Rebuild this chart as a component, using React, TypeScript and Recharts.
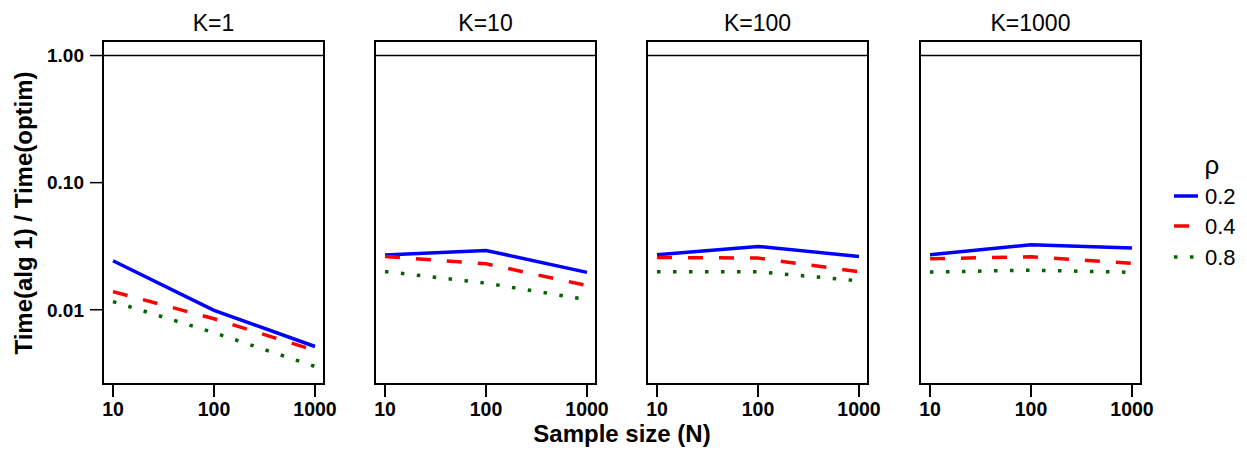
import { LineChart, Line, XAxis, YAxis, ReferenceLine, ReferenceArea } from 'recharts';

const sampleSizes = [10, 100, 1000];
const kLabels = ['K=1', 'K=10', 'K=100', 'K=1000'];
const yTicks = [0.01, 0.1, 1];

// one row per K panel, values at N = 10, 100, 1000
const rho02 = [
  [0.0243, 0.0099, 0.00514],
  [0.027, 0.0293, 0.0197],
  [0.0271, 0.0315, 0.0263],
  [0.0271, 0.0325, 0.0306],
];
const rho04 = [
  [0.0139, 0.0085, 0.00478],
  [0.0263, 0.023, 0.0155],
  [0.0258, 0.0255, 0.0199],
  [0.0252, 0.0261, 0.0232],
];
const rho08 = [
  [0.0116, 0.0066, 0.00358],
  [0.02, 0.0162, 0.012],
  [0.0199, 0.0199, 0.0169],
  [0.0198, 0.0205, 0.0197],
];

const series = [
  { key: 'r02', name: '0.2', color: '#0000ff', dash: undefined },
  { key: 'r04', name: '0.4', color: '#ff0000', dash: '15 16' },
  { key: 'r08', name: '0.8', color: '#006400', dash: '3.5 12.5' },
];

const X_DOMAIN: [number, number] = [Math.pow(10, 1 - 10 / 101), Math.pow(10, 3 + 9 / 101)];
const Y_DOMAIN: [number, number] = [Math.pow(10, -2.584), Math.pow(10, 0.1144)];
const panelLeft = [103, 375, 647, 920];
const AXIS_W = 103;
const PLOT_W = 221;
const RIGHT_PAD = 30;
const font = 'Arial, "Liberation Sans", Helvetica, sans-serif';

const fmtY = (v: number) => v.toFixed(2);

function Panel({ idx }: { idx: number }) {
  const data = sampleSizes.map((n, i) => ({
    n,
    r02: rho02[idx][i],
    r04: rho04[idx][i],
    r08: rho08[idx][i],
  }));
  const first = idx === 0;
  return (
    <div style={{ position: 'absolute', left: panelLeft[idx] - AXIS_W, top: 0 }}>
      <LineChart
        width={AXIS_W + PLOT_W + RIGHT_PAD}
        height={450}
        data={data}
        margin={{ top: 41, right: RIGHT_PAD, bottom: 0, left: 0 }}
      >
        <XAxis
          dataKey="n"
          type="number"
          scale="log"
          domain={X_DOMAIN}
          allowDataOverflow
          ticks={sampleSizes}
          height={66}
          axisLine={false}
          tickSize={13}
          tickMargin={5}
          tickLine={{ stroke: '#000', strokeWidth: 2 }}
          tick={{ fill: '#000', fontSize: 19.5, fontWeight: 'bold', fontFamily: font }}
        />
        <YAxis
          type="number"
          scale="log"
          domain={Y_DOMAIN}
          allowDataOverflow
          ticks={yTicks}
          width={AXIS_W}
          axisLine={false}
          tickSize={13}
          tickMargin={6}
          tickFormatter={fmtY}
          tickLine={first ? { stroke: '#000', strokeWidth: 1.5 } : false}
          tick={first ? { fill: '#000', fontSize: 19, fontWeight: 'bold', fontFamily: font } : false}
        />
        <ReferenceLine y={1} stroke="#000" strokeWidth={1.5} />
        {series.map((s) => (
          <Line
            key={s.key}
            type="linear"
            dataKey={s.key}
            stroke={s.color}
            strokeWidth={3.5}
            strokeDasharray={s.dash}
            strokeLinecap="butt"
            dot={false}
            isAnimationActive={false}
          />
        ))}
        <ReferenceArea
          x1={X_DOMAIN[0]}
          x2={X_DOMAIN[1]}
          y1={Y_DOMAIN[0]}
          y2={Y_DOMAIN[1]}
          ifOverflow="visible"
          fill="none"
          stroke="#000"
          strokeWidth={2}
        />
      </LineChart>
      <div
        style={{
          position: 'absolute',
          left: AXIS_W,
          width: PLOT_W,
          top: 9,
          textAlign: 'center',
          fontFamily: font,
          fontSize: 23,
          lineHeight: '28px',
          color: '#000',
        }}
      >
        {kLabels[idx]}
      </div>
    </div>
  );
}

function RhoLegend() {
  const rowY = [196, 226, 257];
  return (
    <svg width={100} height={140} style={{ position: 'absolute', left: 1160, top: 140 }}>
      <text x={52} y={25} textAnchor="middle" dominantBaseline="central" fontSize={26} fontFamily={font}>
        ρ
      </text>
      {series.map((s, i) => (
        <g key={s.key}>
          <line
            x1={14}
            x2={38}
            y1={rowY[i] - 140}
            y2={rowY[i] - 140}
            stroke={s.color}
            strokeWidth={3.5}
            strokeDasharray={s.dash}
          />
          <text x={45} y={rowY[i] - 140} dominantBaseline="central" fontSize={22} fontFamily={font}>
            {s.name}
          </text>
        </g>
      ))}
    </svg>
  );
}

export default function App() {
  return (
    <div style={{ position: 'absolute', left: 0, top: 0, width: 1247, height: 450, background: '#fff' }}>
      {kLabels.map((_, i) => (
        <Panel key={i} idx={i} />
      ))}
      <div
        style={{
          position: 'absolute',
          left: 0,
          top: 41,
          width: 48,
          height: 343,
          display: 'flex',
          alignItems: 'center',
          justifyContent: 'center',
        }}
      >
        <div
          style={{
            transform: 'rotate(-90deg)',
            whiteSpace: 'nowrap',
            fontFamily: font,
            fontWeight: 'bold',
            fontSize: 24,
          }}
        >
          Time(alg 1) / Time(optim)
        </div>
      </div>
      <div
        style={{
          position: 'absolute',
          left: 0,
          width: 1244,
          top: 420,
          textAlign: 'center',
          fontFamily: font,
          fontWeight: 'bold',
          fontSize: 24,
          lineHeight: '28px',
        }}
      >
        Sample size (N)
      </div>
      <RhoLegend />
    </div>
  );
}
